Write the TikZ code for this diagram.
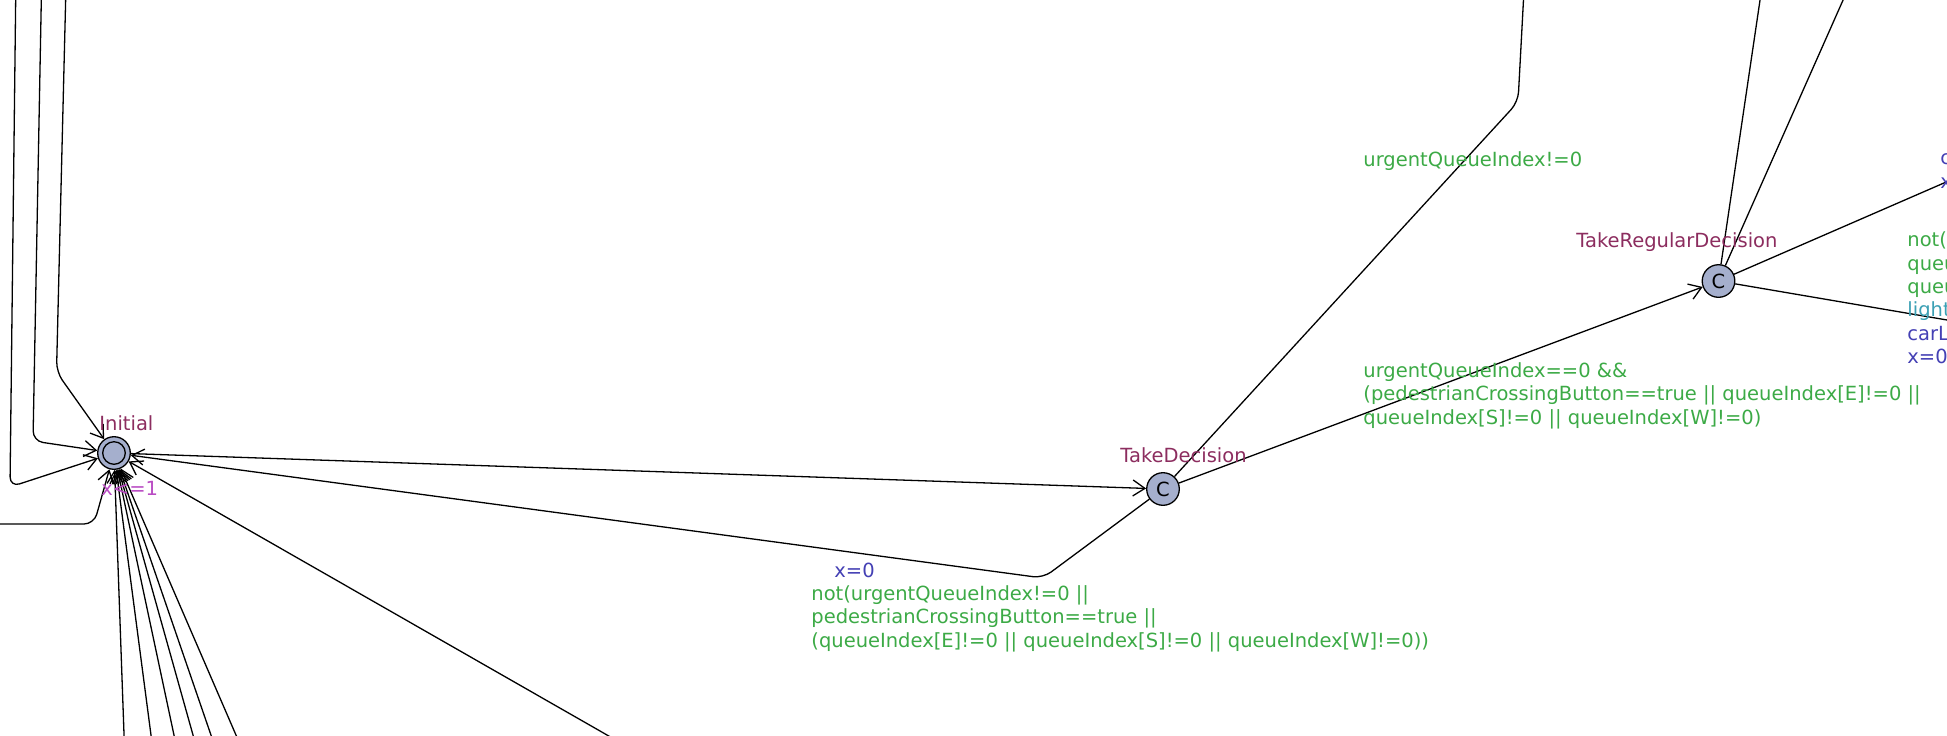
\documentclass[tikz,border=0pt]{standalone}
\usepackage{fontspec}
\setmainfont{DejaVu Sans}
\usetikzlibrary{arrows.meta}
\definecolor{locname}{RGB}{140,45,95}
\definecolor{invcol}{RGB}{185,75,195}
\definecolor{guardcol}{RGB}{60,170,70}
\definecolor{updcol}{RGB}{68,64,180}
\definecolor{synccol}{RGB}{60,160,180}
\definecolor{locfill}{RGB}{165,175,205}
\begin{document}
\begin{tikzpicture}[x=0.5pt,y=-0.5pt,
  every node/.style={font=\fontsize{9.75pt}{11.75pt}\selectfont},
  loc/.style={circle,draw,fill=locfill,line width=0.65pt,minimum size=16.3pt,inner sep=0pt},
  lbl/.style={anchor=base west,inner sep=0pt,align=left},
  lname/.style={lbl,text=locname},
  inv/.style={lbl,text=invcol},
  guard/.style={lbl,text=guardcol},
  upd/.style={lbl,text=updcol},
  sync/.style={lbl,text=synccol},
  edge/.style={line width=0.65pt},
  arr/.style={edge,-{Straight Barb[length=6pt,width=8pt,line width=0.65pt]}},
  nail/.style={edge,rounded corners=5pt}
]
\useasboundingbox (0,0) rectangle (1947,735);
\clip (0,0) rectangle (1947,735);

% locations
\node[loc] (I) at (114,453) {};
\draw[line width=0.65pt] (I.center) circle[radius=11.3];
\node[loc] (TD) at (1163,489) {C};
\node[loc] (TRD) at (1718.5,281) {C};

% free ends
\coordinate (upTD) at (1524,-10);
\coordinate (t1) at (1761.5,-10);
\coordinate (t2) at (1847.5,-10);
\coordinate (r1) at (1960,176);
\coordinate (r2) at (1960,322.2);
\coordinate (la) at (15.8,-10);
\coordinate (lb) at (41.5,-10);
\coordinate (lc) at (65.9,-10);
\coordinate (ld) at (-10,524);
\coordinate (b1) at (124.4,745);
\coordinate (b2) at (152.3,745);
\coordinate (b3) at (176.1,745);
\coordinate (b4) at (195.8,745);
\coordinate (b5) at (214.4,745);
\coordinate (b6) at (240.3,745);
\coordinate (b7) at (624.5,745);

% edges
\draw[arr] (I) -- (TD);
\draw[arr,rounded corners=5pt] (TD) -- (1043,578) -- (I);
\draw[nail] (TD) -- (1518,102) -- (upTD);
\draw[arr] (TD) -- (TRD);
\draw[edge] (TRD) -- (t1);
\draw[edge] (TRD) -- (t2);
\draw[edge] (TRD) -- (r1);
\draw[edge] (TRD) -- (r2);
\draw[arr,rounded corners=5pt] (la) -- (10,487) -- (I);
\draw[arr,rounded corners=5pt] (lb) -- (33,441) -- (I);
\draw[arr,rounded corners=5pt] (lc) -- (56.5,372) -- (I);
\draw[arr,rounded corners=5pt] (ld) -- (94,524) -- (I);
\foreach \b in {b1,b2,b3,b4,b5,b6,b7} \draw[arr] (\b) -- (I);

% labels (multi-line nodes: base = baseline of last line)
\node[lname] (nI) at (99,430) {Initial};
\node[inv] (iI) at (101,495) {x<=1};
\node[lname] (nTD) at (1120,462) {TakeDecision};
\node[lname] (nTRD) at (1576,247) {TakeRegularDecision};
\node[guard] (g1) at (1363,166) {urgentQueueIndex!=0};
\node[guard] (g2) at (1363,424) {urgentQueueIndex==0 \&\&\\(pedestrianCrossingButton==true || queueIndex[E]!=0 ||\\queueIndex[S]!=0 || queueIndex[W]!=0)};
\node[upd] (u1) at (834,577) {x=0};
\node[guard] (g3) at (811,647) {not(urgentQueueIndex!=0 ||\\pedestrianCrossingButton==true ||\\(queueIndex[E]!=0 || queueIndex[S]!=0 || queueIndex[W]!=0))};
\node[guard] (g4) at (1907,293.5) {not(\\queu\\queu};
\node[sync] (s4) at (1907,316.7) {light};
\node[upd] (u4) at (1907,363.5) {carL\\x=0};
\node[upd] (u5) at (1940,188) {c\\x};
\end{tikzpicture}
\end{document}
